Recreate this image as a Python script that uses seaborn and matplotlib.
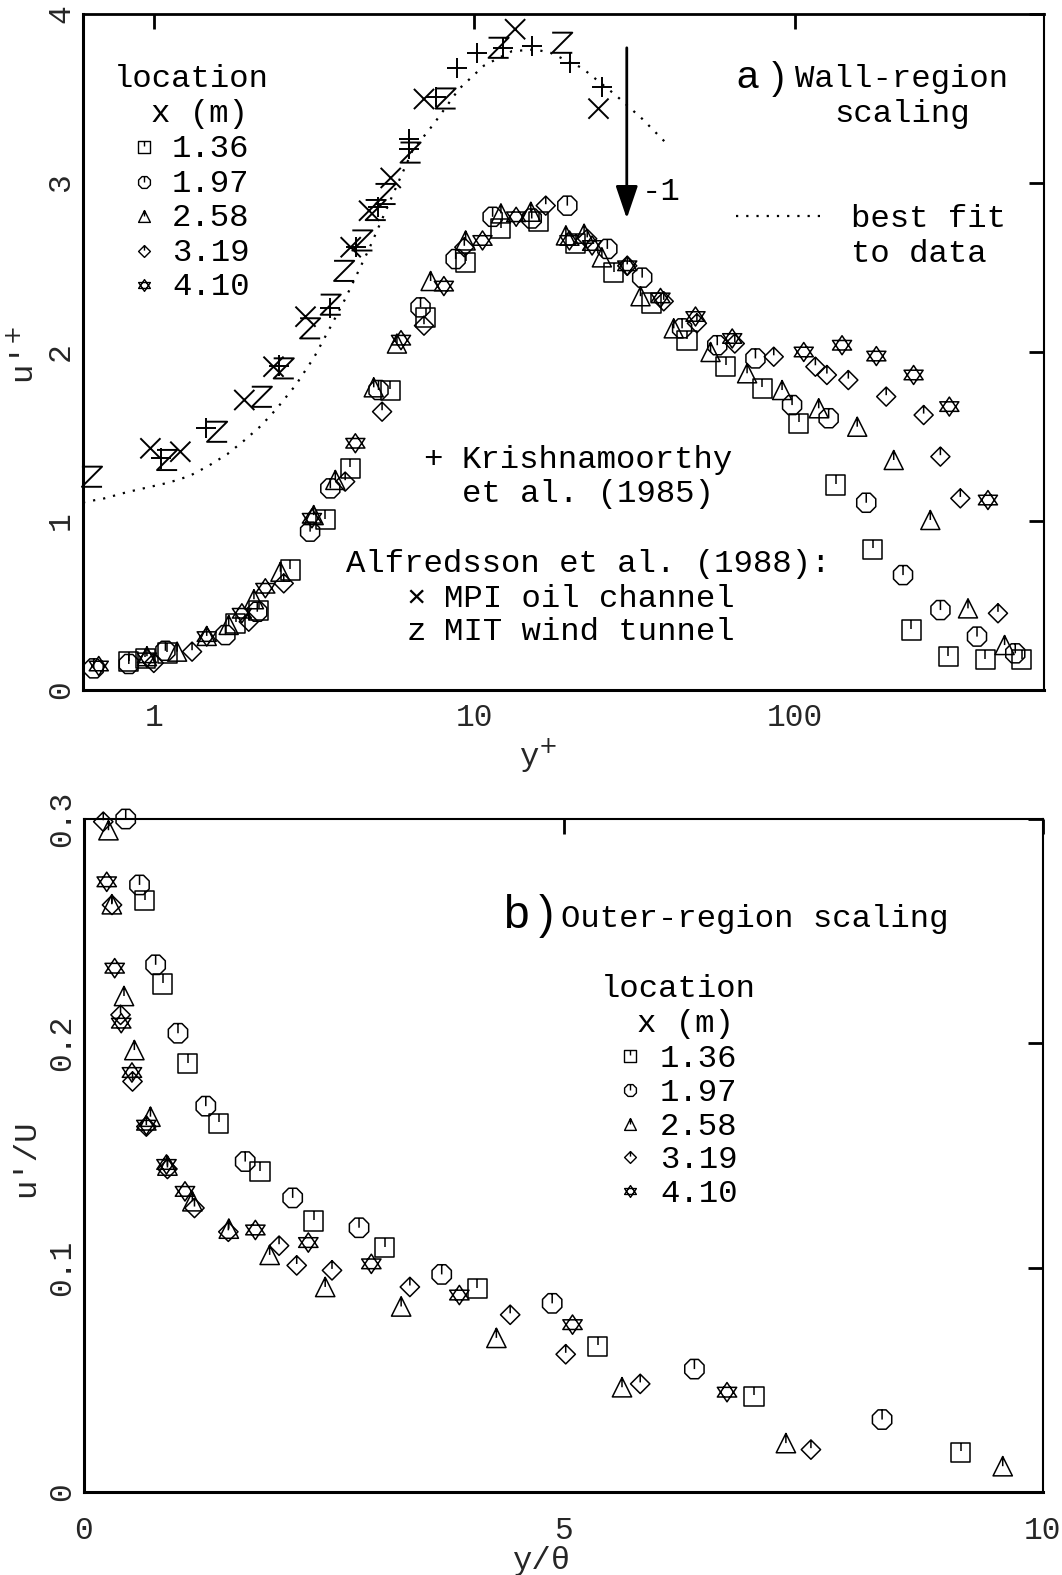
import matplotlib
matplotlib.use("Agg")
import matplotlib.pyplot as plt
from matplotlib.path import Path
from matplotlib.lines import Line2D
from matplotlib.ticker import LogLocator, MultipleLocator, NullFormatter
import numpy as np
import seaborn as sns

# ---------------- data : panel a) wall-region scaling ----------------
fit_x = [0.6, 0.70, 0.82, 0.956, 1.111, 1.289, 1.481, 1.694, 1.913, 2.153, 2.41, 2.77, 3.16,
         3.53, 3.94, 4.69, 5.65, 6.40, 7.47, 8.95, 10.7, 13.1, 15.5, 17.3, 21.7, 27.6, 33.4, 39.5]
fit_y = [1.11, 1.134, 1.17, 1.199, 1.227, 1.266, 1.327, 1.396, 1.477, 1.562, 1.663, 1.805, 1.969,
         2.138, 2.31, 2.61, 2.96, 3.19, 3.35, 3.556, 3.694, 3.78, 3.79, 3.77, 3.68, 3.52, 3.38, 3.24]

kris_x = [1.05, 1.45, 2.45, 3.55, 4.26, 5.0, 6.25, 6.25, 7.57, 8.85, 10.2, 12.3, 15.1, 19.9, 25.0]
kris_y = [1.37, 1.55, 1.92, 2.26, 2.62, 2.86, 3.26, 3.20, 3.51, 3.68, 3.77, 3.80, 3.81, 3.71, 3.57]

mpi_x = [0.974, 1.208, 1.913, 2.36, 2.97, 4.11, 4.69, 5.48, 6.96, 13.4, 24.4]
mpi_y = [1.43, 1.41, 1.716, 1.913, 2.209, 2.62, 2.836, 3.03, 3.497, 3.91, 3.44]

mit_x = [0.64, 1.098, 1.573, 2.17, 2.54, 3.07, 3.56, 3.92, 4.47, 4.92, 5.28, 6.32, 8.13, 11.9, 18.8]
mit_y = [1.262, 1.361, 1.528, 1.735, 1.903, 2.14, 2.28, 2.48, 2.66, 2.84, 2.935, 3.18, 3.50, 3.80, 3.83]

a_sq_x = [0.834, 0.939, 1.098, 1.80, 2.12, 2.66, 3.42, 4.10, 5.46, 7.04, 9.39, 12.1, 15.9, 20.7,
          27.2, 35.6, 46.1, 60.8, 79.1, 103, 134.5, 175.5, 231, 302, 394, 512]
a_sq_y = [0.167, 0.189, 0.219, 0.394, 0.473, 0.71, 1.006, 1.312, 1.775, 2.205, 2.53, 2.73, 2.77, 2.64,
          2.47, 2.29, 2.07, 1.917, 1.785, 1.578, 1.213, 0.833, 0.355, 0.197, 0.178, 0.178]

a_oct_x = [0.648, 0.834, 1.085, 1.67, 2.10, 3.07, 3.55, 5.02, 6.79, 8.74, 11.4, 15.1, 19.5, 26.0,
           33.4, 44.5, 57.3, 75.4, 98.1, 127.6, 167.2, 217.8, 285, 370.7, 488]
a_oct_y = [0.128, 0.154, 0.232, 0.325, 0.463, 0.937, 1.193, 1.775, 2.264, 2.55, 2.80, 2.79, 2.866, 2.61,
           2.44, 2.14, 2.04, 1.962, 1.686, 1.608, 1.108, 0.680, 0.473, 0.316, 0.217]

a_tri_x = [0.95, 1.18, 1.46, 1.71, 2.05, 2.48, 3.15, 3.68, 4.85, 5.73, 7.30, 9.39, 12.1, 15.0, 19.3,
           22.0, 25.0, 33.0, 41.9, 54.6, 71.0, 91.3, 118.8, 156.7, 203.7, 265, 347.4, 452]
a_tri_y = [0.20, 0.227, 0.32, 0.385, 0.537, 0.70, 1.035, 1.243, 1.791, 2.05, 2.42, 2.66, 2.82, 2.83, 2.69,
           2.70, 2.56, 2.33, 2.14, 2.0, 1.874, 1.775, 1.667, 1.558, 1.361, 1.006, 0.483, 0.266]

a_dia_x = [0.998, 1.314, 1.975, 2.54, 3.95, 5.15, 6.96, 9.3, 16.7, 22.5, 30.0, 39.0, 49.5, 65.0,
           86.0, 116, 126, 147, 193, 252.6, 284.9, 328.8, 431]
a_dia_y = [0.16, 0.227, 0.404, 0.631, 1.233, 1.647, 2.156, 2.62, 2.866, 2.67, 2.51, 2.30, 2.17, 2.05,
           1.972, 1.913, 1.864, 1.834, 1.736, 1.627, 1.381, 1.134, 0.454]

a_star_x = [0.672, 0.95, 1.46, 1.88, 2.225, 3.11, 4.25, 5.9, 8.03, 10.6, 13.5, 19.8, 23.3, 30.0,
            38.1, 49.0, 63.8, 106.7, 140.5, 179.8, 235, 303.8, 401]
a_star_y = [0.142, 0.19, 0.316, 0.454, 0.602, 1.016, 1.46, 2.07, 2.39, 2.66, 2.80, 2.66, 2.63, 2.51,
            2.32, 2.21, 2.08, 2.0, 2.04, 1.976, 1.864, 1.677, 1.124]

# ---------------- data : panel b) outer-region scaling ----------------
b_sq_x = [0.632, 0.819, 1.081, 1.404, 1.835, 2.395, 3.137, 4.10, 5.355, 6.987, 9.142]
b_sq_y = [0.2636, 0.2265, 0.191, 0.1644, 0.1428, 0.1208, 0.109, 0.0907, 0.065, 0.0426, 0.0177]
b_oct_x = [0.435, 0.579, 0.747, 0.98, 1.27, 1.681, 2.176, 2.868, 3.73, 4.882, 6.365, 8.322]
b_oct_y = [0.300, 0.2706, 0.235, 0.2045, 0.172, 0.1473, 0.1311, 0.1178, 0.097, 0.0841, 0.0548, 0.0323]
b_tri_x = [0.255, 0.29, 0.417, 0.525, 0.693, 0.87, 1.13, 1.51, 1.936, 2.515, 3.307, 4.30, 5.61, 7.319, 9.58]
b_tri_y = [0.295, 0.262, 0.2211, 0.197, 0.1673, 0.1455, 0.1296, 0.1174, 0.1057, 0.0914, 0.0827, 0.0687,
           0.0467, 0.0218, 0.0115]
b_dia_x = [0.201, 0.292, 0.381, 0.506, 0.65, 0.87, 1.152, 1.505, 2.034, 2.218, 2.586, 3.398, 4.444,
           5.023, 5.80, 7.58]
b_dia_y = [0.2988, 0.2617, 0.2127, 0.183, 0.1629, 0.144, 0.1266, 0.116, 0.1098, 0.101, 0.0988, 0.0914,
           0.079, 0.0614, 0.0482, 0.0189]
b_star_x = [0.237, 0.32, 0.388, 0.50, 0.65, 0.86, 1.053, 1.787, 2.339, 2.996, 3.914, 5.094, 6.705]
b_star_y = [0.272, 0.2335, 0.209, 0.187, 0.1635, 0.146, 0.134, 0.1168, 0.1112, 0.1017, 0.0878, 0.0746,
            0.0445]

locations = ["1.36", "1.97", "2.58", "3.19", "4.10"]
a_xticks = [1, 10, 100]
a_xticklabels = ["1", "10", "100"]
a_yticks = [0, 1, 2, 3, 4]
b_xticks = [0, 5, 10]
b_yticks = [0, 0.1, 0.2, 0.3]
b_yticklabels = ["0", "0.1", "0.2", "0.3"]

# ---------------- style ----------------
sns.set_style("white")
plt.rcParams['font.family'] = ['Liberation Mono', 'DejaVu Sans Mono', 'DejaVu Sans']
plt.rcParams['mathtext.fontset'] = 'dejavusans'

W, H = 1062, 1575
fig = plt.figure(figsize=(W / 100, H / 100), dpi=100)
axA = fig.add_axes([83 / W, 1 - 690 / H, 961 / W, 676 / H])
axB = fig.add_axes([84 / W, 1 - 1492 / H, 959 / W, 673 / H])

M, L, C = Path.MOVETO, Path.LINETO, Path.CLOSEPOLY


def make_path(segs):
    verts, codes = [], []
    for seg, closed in segs:
        for i, v in enumerate(seg):
            verts.append(v)
            codes.append(M if i == 0 else L)
        if closed:
            verts.append(seg[0])
            codes.append(C)
    return Path(verts, codes)


ang = np.deg2rad(22.5 + 45 * np.arange(8))
oct_pts = [(float(np.cos(a)), float(np.sin(a))) for a in ang]
top_oct = float(np.sin(np.deg2rad(67.5)))

mk_square = make_path([([(-1, -1), (1, -1), (1, 1), (-1, 1)], True), ([(0, 1), (0, 0.1)], False)])
mk_oct = make_path([(oct_pts, True), ([(0, top_oct), (0, 0)], False)])
mk_tri = make_path([([(0, 1), (-1, -1), (1, -1)], True), ([(0, 1), (0, 0.0)], False)])
mk_dia = make_path([([(0, 1), (1, 0), (0, -1), (-1, 0)], True), ([(0, 1), (0, 0.15)], False)])
mk_star = make_path([([(0, 1), (-1, -0.5), (1, -0.5)], True), ([(0, -1), (-1, 0.5), (1, 0.5)], True)])
mk_plus = make_path([([(-1, 0), (1, 0)], False), ([(0, -1), (0, 1)], False)])
mk_cross = make_path([([(-1, -1), (1, 1)], False), ([(-1, 1), (1, -1)], False)])
mk_z = make_path([([(-1, 1), (1, 1), (-1, -1), (1, -1)], False)])

series_markers = [mk_square, mk_oct, mk_tri, mk_dia, mk_star]


def scat(ax, x, y, marker, size, lw=1.0):
    sns.scatterplot(x=x, y=y, ax=ax, marker=marker, s=size ** 2, facecolors='none',
                    edgecolor='black', linewidth=lw, clip_on=False, legend=False, zorder=3)


# ---------------- panel a ----------------
axA.set_xscale('log')
sns.lineplot(x=fit_x, y=fit_y, ax=axA, color='black', lw=1.6, sort=False, estimator=None,
             dashes=False, zorder=2)
axA.lines[-1].set_dashes((1, 3.6))

scat(axA, kris_x, kris_y, mk_plus, 14.5, 1.4)
scat(axA, mpi_x, mpi_y, mk_cross, 14.5, 1.4)
scat(axA, mit_x, mit_y, mk_z, 14.5, 1.4)
for (xs, ys), mk in zip([(a_sq_x, a_sq_y), (a_oct_x, a_oct_y), (a_tri_x, a_tri_y),
                         (a_dia_x, a_dia_y), (a_star_x, a_star_y)], series_markers):
    scat(axA, xs, ys, mk, 13.7, 1.1)

axA.set_xlim(0.6, 600)
axA.set_ylim(0, 4)
axA.set_xticks(a_xticks)
axA.set_xticklabels(a_xticklabels)
axA.xaxis.set_minor_locator(LogLocator(base=10, subs=np.arange(2, 10)))
axA.xaxis.set_minor_formatter(NullFormatter())
axA.set_yticks(a_yticks)
axA.set_yticklabels([str(v) for v in a_yticks])
axA.yaxis.set_minor_locator(MultipleLocator(0.2))

# arrow (-1 slope marker)
axA.annotate('', xy=(29.9, 2.79), xytext=(29.9, 3.80),
             arrowprops=dict(arrowstyle='-|>,head_length=1.0,head_width=0.34', mutation_scale=20,
                             lw=2, color='black', shrinkA=0, shrinkB=0))

# ---------------- panel b ----------------
for (xs, ys), mk in zip([(b_sq_x, b_sq_y), (b_oct_x, b_oct_y), (b_tri_x, b_tri_y),
                         (b_dia_x, b_dia_y), (b_star_x, b_star_y)], series_markers):
    scat(axB, xs, ys, mk, 13.9, 1.1)

axB.set_xlim(0, 10)
axB.set_ylim(0, 0.3)
axB.set_xticks(b_xticks)
axB.set_xticklabels([str(v) for v in b_xticks])
axB.xaxis.set_minor_locator(MultipleLocator(1))
axB.set_yticks(b_yticks)
axB.set_yticklabels(b_yticklabels)
axB.yaxis.set_minor_locator(MultipleLocator(0.02))

# ---------------- axes styling ----------------
for ax in (axA, axB):
    ax.tick_params(which='both', direction='in', top=True, right=True, labelsize=22.5, color='black')
    ax.tick_params(which='major', length=10.8, width=2.0)
    ax.tick_params(which='minor', length=6.2, width=1.4, top=False, right=False)
    ax.tick_params(axis='y', labelrotation=90, pad=5)
    ax.tick_params(axis='x', pad=9)
    for lab in ax.get_yticklabels():
        lab.set_va('center')
    for side in ('left', 'bottom'):
        ax.spines[side].set_linewidth(2.2)
    for side in ('top', 'right'):
        ax.spines[side].set_linewidth(1.5)
    for sp in ax.spines.values():
        sp.set_color('black')
        sp.set_visible(True)
axA.spines['top'].set_linewidth(2.0)
axB.tick_params(axis='x', pad=17)

FS = 23.3
axA.set_xlabel(r"y$^{+}$", fontsize=FS, va='baseline')
axA.xaxis.set_label_coords((538 - 83) / 961, (690 - 766) / 676)
axA.set_ylabel(r"u'$^{+}$", fontsize=FS, va='baseline')
axA.yaxis.set_label_coords((34 - 83) / 961, (690 - 355) / 676)
axB.set_xlabel("y/θ", fontsize=FS, va='baseline')
axB.xaxis.set_label_coords((542 - 84) / 959, (1492 - 1569) / 673)
axB.set_ylabel("u'/U", fontsize=FS, va='baseline')
axB.yaxis.set_label_coords((34 - 84) / 959, (1492 - 1158) / 673)

# ---------------- annotations ----------------
MONO = ['Liberation Mono', 'DejaVu Sans Mono']


def ftext(px, py, s, ha='left', va='baseline', size=FS, family=None):
    fig.text(px / W, 1 - py / H, s, ha=ha, va=va, fontsize=size,
             family=family if family else MONO, color='black')


def fmark(px, py, marker, ms=8.5):
    fig.add_artist(Line2D([px / W], [1 - py / H], marker=marker, ms=ms, mfc='none', mec='black',
                          mew=1.0, ls='none', transform=fig.transFigure))


# panel a legend
ftext(114, 87, "location")
ftext(151, 122, "x (m)")
for i, (lab, mk) in enumerate(zip(locations, series_markers)):
    base = 157 + i * 34.6
    fmark(144, base - 10, mk)
    ftext(172, base, lab)

ftext(736, 88, "a", size=28, family=['Liberation Sans', 'DejaVu Sans'])
ftext(772, 89, ")", size=28, family=['Liberation Sans', 'DejaVu Sans'])
ftext(902, 87, "Wall-region", ha='center')
ftext(902, 122, "scaling", ha='center')
ftext(642, 200, "-1")
fig.add_artist(Line2D([736 / W, 826 / W], [1 - 216 / H, 1 - 216 / H], color='black', lw=1.6,
                      dashes=(1, 3.6), transform=fig.transFigure))
ftext(851, 227, "best fit")
ftext(851, 262, "to data")

ftext(433, 468, "+", ha='center')
ftext(462, 468, "Krishnamoorthy")
ftext(462, 502, "et al. (1985)")
ftext(346, 572, "Alfredsson et al. (1988):")
ftext(416, 607, "×", ha='center')
ftext(444, 607, "MPI oil channel")
ftext(416, 640, "z", ha='center')
ftext(444, 640, "MIT wind tunnel")

# panel b labels
ftext(503, 928, "b", size=33, family=['Liberation Sans', 'DejaVu Sans'])
ftext(539, 928, ")", size=33, family=['Liberation Sans', 'DejaVu Sans'])
ftext(561, 927, "Outer-region scaling")
ftext(601, 997, "location")
ftext(637, 1032, "x (m)")
for i, (lab, mk) in enumerate(zip(locations, series_markers)):
    base = 1067 + i * 33.8
    fmark(630, base - 11, mk)
    ftext(660, base, lab)

fig.savefig("out.png", dpi=100)
